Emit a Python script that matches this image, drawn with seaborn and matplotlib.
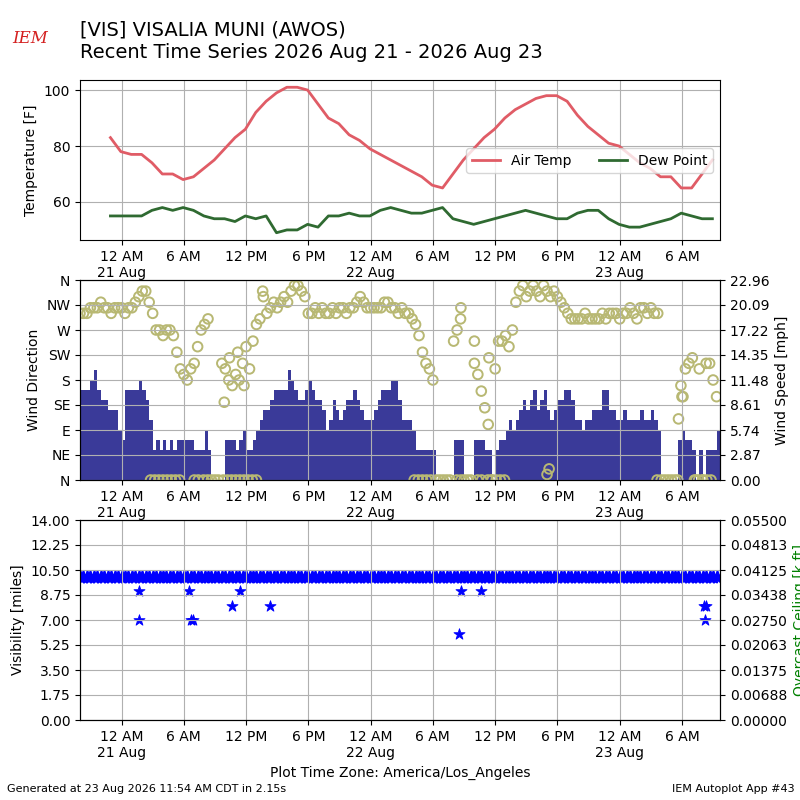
import matplotlib
matplotlib.use("Agg")
import matplotlib.pyplot as plt
import matplotlib.dates as mdates
from matplotlib.ticker import FuncFormatter
import numpy as np
import pandas as pd
import seaborn as sns

# --- data ------------------------------------------------------------------
title_line1 = "[VIS] VISALIA MUNI (AWOS)"
title_line2 = "Recent Time Series 2026 Aug 21 - 2026 Aug 23"

day0 = pd.Timestamp("2026-08-21 00:00")

# hourly obs, first at 20 Aug 22:56
temp_start = "2026-08-20 22:56"
air_temp_f = [83, 78, 77, 77, 74, 70, 70, 68, 69, 72,
              75, 79, 83, 86, 92, 96, 99, 101, 101, 100,
              95, 90, 88, 84, 82, 79, 77, 75, 73, 71,
              69, 66, 65, 70, 75, 79, 83, 86, 90, 93,
              95, 97, 98, 98, 96, 91, 87, 84, 81, 80,
              77, 74, 72, 69, 69, 65, 65, 70, 75]
dew_point_f = [55, 55, 55, 55, 57, 58, 57, 58, 57, 55,
               54, 54, 53, 55, 54, 55, 49, 50, 50, 52,
               51, 55, 55, 56, 55, 55, 57, 58, 57, 56,
               56, 57, 58, 54, 53, 52, 53, 54, 55, 56,
               57, 56, 55, 54, 54, 56, 57, 57, 54, 52,
               51, 51, 52, 53, 54, 56, 55, 54, 54]

# wind / visibility obs every 20 minutes from 20 Aug 20:00
wind_start = "2026-08-20 20:00"
wind_kt = [9, 9, 9, 10, 11, 9, 8, 8, 7, 7,
           7, 5, 4, 9, 9, 9, 9, 10, 9, 8,
           6, 3, 4, 3, 4, 3, 4, 3, 4, 4,
           4, 4, 4, 3, 3, 3, 5, 3, 0, 0,
           0, 0, 4, 4, 4, 3, 4, 5, 3, 3,
           4, 5, 6, 7, 7, 8, 9, 9, 9, 9,
           11, 10, 9, 8, 8, 9, 10, 9, 8, 8,
           7, 5, 6, 8, 7, 6, 7, 8, 8, 9,
           8, 7, 6, 6, 6, 7, 8, 9, 9, 9,
           10, 10, 8, 6, 6, 6, 5, 3, 3, 3,
           3, 3, 3, 0, 0, 0, 0, 0, 4, 4,
           4, 0, 0, 0, 4, 4, 4, 3, 3, 0,
           3, 4, 4, 5, 6, 5, 6, 7, 8, 7,
           8, 9, 7, 8, 9, 7, 6, 7, 8, 8,
           9, 9, 8, 6, 6, 5, 6, 6, 7, 7,
           7, 9, 9, 7, 7, 6, 6, 7, 6, 6,
           6, 6, 7, 6, 6, 7, 6, 5, 0, 0,
           0, 0, 0, 4, 5, 4, 4, 3, 0, 3,
           0, 3, 3, 3, 5]
wind_dir = [300, 300, 300, 310, 310, 310, 320, 310, 310, 300,
            310, 310, 310, 300, 310, 310, 320, 330, 340, 340,
            320, 300, 270, 270, 260, 270, 270, 260, 230, 200,
            190, 180, 200, 210, 240, 270, 280, 290, 0, 0,
            0, 210, 200, 180, 170, 190, 180, 210, 240, 200,
            250, 280, 290, 330, 300, 310, 320, 310, 320, 330,
            320, 340, 350, 350, 340, 330, 300, 300, 310, 300,
            310, 300, 300, 310, 300, 310, 310, 300, 310, 310,
            320, 330, 320, 310, 310, 310, 310, 310, 320, 320,
            310, 310, 300, 310, 300, 300, 290, 280, 260, 230,
            210, 200, 180, 0, 0, 0, 0, 0, 250, 270,
            290, 0, 0, 0, 210, 190, 160, 130, 100, 0,
            200, 250, 250, 260, 240, 270, 320, 340, 350, 330,
            340, 350, 340, 330, 350, 340, 330, 340, 330, 320,
            310, 300, 290, 290, 290, 290, 300, 290, 290, 290,
            290, 300, 290, 300, 300, 300, 290, 300, 300, 310,
            300, 290, 310, 310, 300, 310, 300, 300, 0, 0,
            0, 0, 0, 110, 150, 200, 210, 220, 0, 200,
            0, 210, 210, 180, 150]
vis_miles = [10, 10, 10, 10, 10, 10, 10, 10, 10, 10,
             10, 10, 10, 10, 10, 10, 10, 10, 10, 10,
             10, 10, 10, 10, 10, 10, 10, 10, 10, 10,
             10, 10, 10, 10, 10, 10, 10, 10, 10, 10,
             10, 10, 10, 10, 10, 10, 10, 10, 10, 10,
             10, 10, 10, 10, 10, 10, 10, 10, 10, 10,
             10, 10, 10, 10, 10, 10, 10, 10, 10, 10,
             10, 10, 10, 10, 10, 10, 10, 10, 10, 10,
             10, 10, 10, 10, 10, 10, 10, 10, 10, 10,
             10, 10, 10, 10, 10, 10, 10, 10, 10, 10,
             10, 10, 10, 10, 10, 10, 10, 10, 10, 10,
             10, 10, 10, 10, 10, 10, 10, 10, 10, 10,
             10, 10, 10, 10, 10, 10, 10, 10, 10, 10,
             10, 10, 10, 10, 10, 10, 10, 10, 10, 10,
             10, 10, 10, 10, 10, 10, 10, 10, 10, 10,
             10, 10, 10, 10, 10, 10, 10, 10, 10, 10,
             10, 10, 10, 10, 10, 10, 10, 10, 10, 10,
             10, 10, 10, 10, 10, 10, 10, 10, 10, 10,
             10, 10, 10, 10, 10]

# additional direction obs in between (hours after 21 Aug 00:00)
extra_dir_hours = [2.8, 3.2, 3.6, 4.0, 4.4, 4.8, 5.2, 5.6, 7.0, 7.4,
                   7.9, 8.3, 9.8, 10.2, 10.6, 11.0, 11.4, 11.8, 12.2, 12.6,
                   13.0, 28.2, 28.6, 29.0, 29.4, 29.8, 32.3, 32.7, 34.3, 34.7,
                   35.3, 35.7, 36.1, 36.5, 36.9, 51.6, 53.6, 55.2, 55.6, 56.0,
                   56.4, 56.8, 9.9, 10.4, 11.2, 11.8, 13.6, 32.7, 34.0, 35.4,
                   41.0, 41.2, 53.9, 54.1]
extra_dir_deg = [0, 0, 0, 0, 0, 0, 0, 0, 0, 0,
                 0, 0, 0, 0, 0, 0, 0, 0, 0, 0,
                 0, 0, 0, 0, 0, 0, 0, 0, 0, 0,
                 0, 0, 0, 0, 0, 0, 0, 0, 0, 0,
                 0, 0, 140, 220, 230, 170, 340, 310, 250, 220,
                 10, 20, 170, 150]

low_vis_hours = [1.73, 1.73, 6.55, 6.7, 6.9, 10.66, 11.4, 14.3,
                 32.55, 32.7, 34.6, 56.1, 56.3, 56.2]
low_vis_miles = [9, 7, 9, 7, 7, 8, 9, 8, 6, 9, 9, 8, 8, 7]

dir_labels = ["N", "NE", "E", "SE", "S", "SW", "W", "NW", "N"]
speed_max_mph = 22.96
ceiling_labels = ["0.00000", "0.00688", "0.01375", "0.02063", "0.02750",
                  "0.03438", "0.04125", "0.04813", "0.05500"]

# --- frames ------------------------------------------------------------------
temp_df = pd.DataFrame({
    "valid": pd.date_range(temp_start, periods=len(air_temp_f), freq="h"),
    "tmpf": air_temp_f,
    "dwpf": dew_point_f,
})
wind_df = pd.DataFrame({
    "valid": pd.date_range(wind_start, periods=len(wind_kt), freq="20min"),
    "sknt": wind_kt,
    "drct": wind_dir,
    "vsby": vis_miles,
})
wind_df["smph"] = wind_df["sknt"] * 1.15078
extra_df = pd.DataFrame({
    "valid": day0 + pd.to_timedelta(extra_dir_hours, unit="h"),
    "drct": extra_dir_deg,
})
lowvis_df = pd.DataFrame({
    "valid": day0 + pd.to_timedelta(low_vis_hours, unit="h"),
    "vsby": low_vis_miles,
})
all_dir = pd.concat([wind_df[["valid", "drct"]], extra_df], ignore_index=True)


def time_label(x, pos):
    t = pd.Timestamp(mdates.num2date(x)).tz_localize(None).round("min")
    h12 = t.hour % 12 or 12
    text = f"{h12} {'AM' if t.hour < 12 else 'PM'}"
    if t.hour == 0:
        text += "\n" + t.strftime("%d %b")
    return text


fig = plt.figure(figsize=(8, 8), dpi=100)
ax1 = fig.add_axes([0.1, 0.7, 0.8, 0.2])
ax2 = fig.add_axes([0.1, 0.4, 0.8, 0.25], sharex=ax1)
ax3 = fig.add_axes([0.1, 0.1, 0.8, 0.25], sharex=ax1)

# temperature panel
sns.lineplot(data=temp_df, x="valid", y="tmpf", ax=ax1, color="#e05c66",
             linewidth=2, label="Air Temp")
sns.lineplot(data=temp_df, x="valid", y="dwpf", ax=ax1, color="#2f6a31",
             linewidth=2, label="Dew Point")
ax1.set_ylabel("Temperature [F]")
ax1.set_xlabel("")
ax1.set_yticks([60, 80, 100])
ax1.legend(loc="upper right", bbox_to_anchor=(0.989, 0.575), ncol=2,
           borderaxespad=0)

# wind panel
ax2s = ax2.twinx()
ax2s.bar(wind_df["valid"], wind_df["smph"], width=pd.Timedelta("20min"),
         align="edge", color="#3a3a99", linewidth=0)
ax2s.set_ylim(0, speed_max_mph)
ax2s.set_yticks(np.linspace(0, speed_max_mph, 9))
ax2s.yaxis.set_major_formatter(FuncFormatter(lambda v, p: f"{v:.2f}"))
ax2s.set_ylabel("Wind Speed [mph]")
ax2.set_zorder(ax2s.get_zorder() + 1)
ax2.patch.set_visible(False)
sns.scatterplot(data=all_dir, x="valid", y="drct", ax=ax2, marker="o", s=48,
                facecolor="none", edgecolor="#b8b873", linewidth=1.4)
ax2.set_ylim(0, 360)
ax2.set_yticks(range(0, 361, 45))
ax2.set_yticklabels(dir_labels)
ax2.set_ylabel("Wind Direction")
ax2.set_xlabel("")

# visibility panel: routine obs form a solid band, low obs as single stars
sns.scatterplot(data=wind_df, x="valid", y="vsby", ax=ax3, marker="*", s=75,
                color="blue", edgecolor="blue", linewidth=1.6)
sns.scatterplot(data=lowvis_df, x="valid", y="vsby", ax=ax3, marker="*",
                s=70, color="blue", edgecolor="blue", linewidth=0.6)
ax3.set_ylim(0, 14)
ax3.set_yticks(np.linspace(0, 14, 9))
ax3.yaxis.set_major_formatter(FuncFormatter(lambda v, p: f"{v:.2f}"))
ax3.set_ylabel("Visibility [miles]")
ax3.set_xlabel("Plot Time Zone: America/Los_Angeles")
ax3c = ax3.twinx()
ax3c.set_ylim(0, 0.055)
ax3c.set_yticks(np.linspace(0, 0.055, 9))
ax3c.set_yticklabels(ceiling_labels)
ax3c.set_ylabel("Overcast Ceiling [k ft]", color="green")

for ax in (ax1, ax2, ax3):
    ax.grid(True)
    ax.xaxis.set_major_locator(mdates.HourLocator(byhour=[0, 6, 12, 18]))
    ax.xaxis.set_major_formatter(FuncFormatter(time_label))
    ax.tick_params(axis="x", labelbottom=True)
ax1.set_xlim(wind_df["valid"].iloc[0],
             wind_df["valid"].iloc[-1] + pd.Timedelta("20min"))

fig.text(0.1, 0.974, f"{title_line1}\n{title_line2}", fontsize=14, va="top")
fig.text(0.0375, 0.952, "IEM", color="#d42020", fontsize=12, style="italic",
         family="serif", ha="center", va="center")
fig.text(0.009, 0.0135, "Generated at 23 Aug 2026 11:54 AM CDT in 2.15s",
         fontsize=8, va="center")
fig.text(0.993, 0.0135, "IEM Autoplot App #43", fontsize=8, va="center",
         ha="right")

fig.savefig("out.png", dpi=100)
